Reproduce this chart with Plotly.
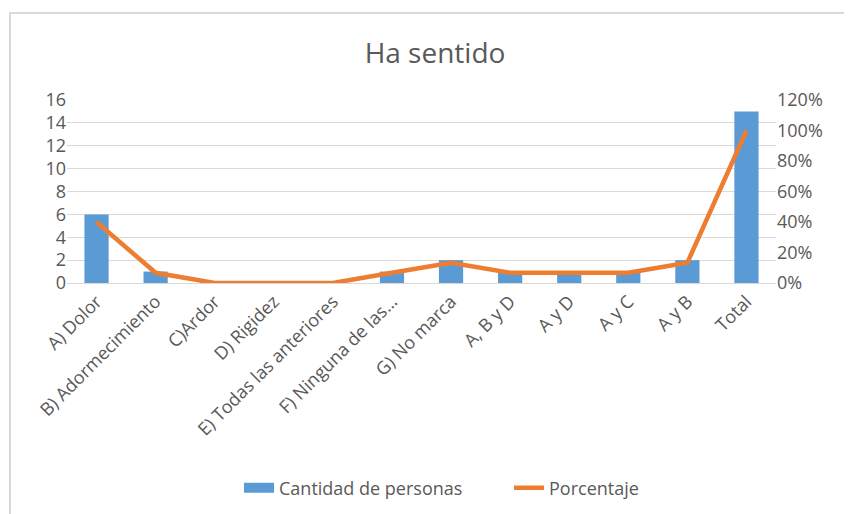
import plotly.graph_objects as go

categories = ["A) Dolor", "B) Adormecimiento", "C)Ardor", "D) Rigidez",
              "E) Todas las anteriores", "F) Ninguna de las…", "G) No marca",
              "A, B y D", "A y D", "A y C", "A y B", "Total"]
cantidad = [6, 1, 0, 0, 0, 1, 2, 1, 1, 1, 2, 15]
porcentaje = [0.40, 0.0667, 0, 0, 0, 0.0667, 0.1333, 0.0667, 0.0667, 0.0667, 0.1333, 1.0]

W, H = 852, 514
OFF = 8  # page body margin in the browser
# target positions in the screenshot
SL, SR, ST, SB = 67, 776, 100, 283
L, R, T, B = SL - OFF, SR - OFF, ST - OFF, SB - OFF
pw, ph = R - L, B - T

def px_x(x):
    return (x - OFF - L) / pw

def px_y(y):
    return (B - (y - OFF)) / ph

font_fam = "Open Sans, Liberation Sans, sans-serif"
grey = "#595959"
blue = "#5B9BD5"
orange = "#ED7D31"

fig = go.Figure()
fig.add_trace(go.Bar(x=categories, y=cantidad, name="Cantidad de personas",
                     marker=dict(color=blue, line=dict(width=0)),
                     width=0.41, yaxis="y", showlegend=False))
fig.add_trace(go.Scatter(x=[None], y=[None], name="Cantidad de personas",
                         mode="lines", line=dict(color=blue, width=11),
                         yaxis="y", showlegend=True))
fig.add_trace(go.Scatter(x=categories, y=porcentaje, name="Porcentaje",
                         mode="lines", line=dict(color=orange, width=4.5),
                         yaxis="y2"))

fig.update_layout(
    width=W, height=H,
    margin=dict(l=L, r=W - R, t=T, b=H - B, autoexpand=False),
    paper_bgcolor="white", plot_bgcolor="white",
    font=dict(family=font_fam, color=grey, size=18),
    title=dict(text="Ha sentido", x=(435 - OFF) / W, xanchor="center",
               y=1 - 45 / H, yanchor="middle",
               font=dict(size=28, color=grey, family=font_fam)),
    xaxis=dict(tickangle=-45, showgrid=False, showline=True,
               linecolor="#D9D9D9", linewidth=1, ticks="", automargin=False,
               tickfont=dict(size=18, color=grey)),
    yaxis=dict(range=[0, 16], dtick=2, showgrid=True, gridcolor="#D9D9D9",
               gridwidth=1, zeroline=False, showline=False, ticks="",
               automargin=False, tickfont=dict(size=18, color=grey)),
    yaxis2=dict(range=[0, 1.2], dtick=0.2, tickformat=".0%", overlaying="y",
                side="right", showgrid=False, zeroline=False, showline=False,
                ticks="", automargin=False, tickfont=dict(size=18, color=grey)),
    legend=dict(orientation="h", x=px_x(509), xanchor="center",
                y=px_y(488), yanchor="middle", entrywidth=225,
                font=dict(size=18, color=grey)),
    shapes=[dict(type="rect", xref="paper", yref="paper",
                 x0=px_x(10), x1=px_x(900), y0=px_y(560), y1=px_y(13),
                 line=dict(color="#D9D9D9", width=2), layer="below")],
)

fig.write_html("out.html")
